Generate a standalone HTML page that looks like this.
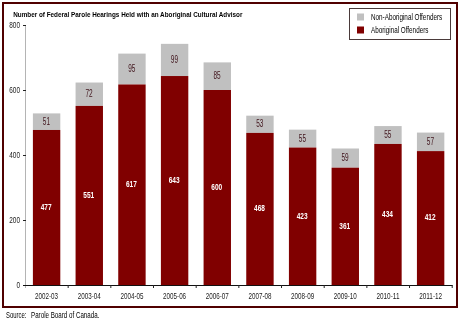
<!DOCTYPE html>
<html><head><meta charset="utf-8"><style>
html,body{margin:0;padding:0;background:#fff;width:460px;height:322px;overflow:hidden}
svg{display:block;font-family:"Liberation Sans", sans-serif;will-change:transform}
</style></head><body>
<svg width="460" height="322" viewBox="0 0 460 322">
<rect x="3" y="3" width="454" height="304" fill="none" stroke="#500000" stroke-width="2"/>
<text x="13.20" y="17.20" font-size="8.1" font-weight="bold" fill="#000" text-anchor="start" textLength="229.20" lengthAdjust="spacingAndGlyphs">Number of Federal Parole Hearings Held with an Aboriginal Cultural Advisor</text>
<rect x="32.90" y="113.40" width="27.4" height="16.57" fill="#c0c0c0"/>
<rect x="32.90" y="129.97" width="27.4" height="155.03" fill="#800000"/>
<text x="46.40" y="124.69" font-size="10.0" font-weight="normal" fill="#40141c" text-anchor="middle" textLength="7.20" lengthAdjust="spacingAndGlyphs">51</text>
<text x="46.10" y="209.79" font-size="9.9" font-weight="bold" fill="#fff" text-anchor="middle" textLength="10.90" lengthAdjust="spacingAndGlyphs">477</text>
<text x="46.60" y="299.20" font-size="9.2" font-weight="normal" fill="#222" text-anchor="middle" textLength="23.00" lengthAdjust="spacingAndGlyphs">2002-03</text>
<rect x="75.57" y="82.53" width="27.4" height="23.40" fill="#c0c0c0"/>
<rect x="75.57" y="105.92" width="27.4" height="179.08" fill="#800000"/>
<text x="89.07" y="97.22" font-size="10.0" font-weight="normal" fill="#40141c" text-anchor="middle" textLength="7.20" lengthAdjust="spacingAndGlyphs">72</text>
<text x="88.77" y="197.76" font-size="9.9" font-weight="bold" fill="#fff" text-anchor="middle" textLength="10.90" lengthAdjust="spacingAndGlyphs">551</text>
<text x="89.27" y="299.20" font-size="9.2" font-weight="normal" fill="#222" text-anchor="middle" textLength="23.00" lengthAdjust="spacingAndGlyphs">2003-04</text>
<rect x="118.24" y="53.60" width="27.4" height="30.88" fill="#c0c0c0"/>
<rect x="118.24" y="84.47" width="27.4" height="200.53" fill="#800000"/>
<text x="131.74" y="72.04" font-size="10.0" font-weight="normal" fill="#40141c" text-anchor="middle" textLength="7.20" lengthAdjust="spacingAndGlyphs">95</text>
<text x="131.44" y="187.04" font-size="9.9" font-weight="bold" fill="#fff" text-anchor="middle" textLength="10.90" lengthAdjust="spacingAndGlyphs">617</text>
<text x="131.94" y="299.20" font-size="9.2" font-weight="normal" fill="#222" text-anchor="middle" textLength="23.00" lengthAdjust="spacingAndGlyphs">2004-05</text>
<rect x="160.91" y="43.85" width="27.4" height="32.18" fill="#c0c0c0"/>
<rect x="160.91" y="76.03" width="27.4" height="208.97" fill="#800000"/>
<text x="174.41" y="62.94" font-size="10.0" font-weight="normal" fill="#40141c" text-anchor="middle" textLength="7.20" lengthAdjust="spacingAndGlyphs">99</text>
<text x="174.11" y="182.81" font-size="9.9" font-weight="bold" fill="#fff" text-anchor="middle" textLength="10.90" lengthAdjust="spacingAndGlyphs">643</text>
<text x="174.61" y="299.20" font-size="9.2" font-weight="normal" fill="#222" text-anchor="middle" textLength="23.00" lengthAdjust="spacingAndGlyphs">2005-06</text>
<rect x="203.58" y="62.38" width="27.4" height="27.62" fill="#c0c0c0"/>
<rect x="203.58" y="90.00" width="27.4" height="195.00" fill="#800000"/>
<text x="217.08" y="79.19" font-size="10.0" font-weight="normal" fill="#40141c" text-anchor="middle" textLength="7.20" lengthAdjust="spacingAndGlyphs">85</text>
<text x="216.78" y="189.80" font-size="9.9" font-weight="bold" fill="#fff" text-anchor="middle" textLength="10.90" lengthAdjust="spacingAndGlyphs">600</text>
<text x="217.28" y="299.20" font-size="9.2" font-weight="normal" fill="#222" text-anchor="middle" textLength="23.00" lengthAdjust="spacingAndGlyphs">2006-07</text>
<rect x="246.25" y="115.67" width="27.4" height="17.23" fill="#c0c0c0"/>
<rect x="246.25" y="132.90" width="27.4" height="152.10" fill="#800000"/>
<text x="259.75" y="127.29" font-size="10.0" font-weight="normal" fill="#40141c" text-anchor="middle" textLength="7.20" lengthAdjust="spacingAndGlyphs">53</text>
<text x="259.45" y="211.25" font-size="9.9" font-weight="bold" fill="#fff" text-anchor="middle" textLength="10.90" lengthAdjust="spacingAndGlyphs">468</text>
<text x="259.95" y="299.20" font-size="9.2" font-weight="normal" fill="#222" text-anchor="middle" textLength="23.00" lengthAdjust="spacingAndGlyphs">2007-08</text>
<rect x="288.92" y="129.65" width="27.4" height="17.88" fill="#c0c0c0"/>
<rect x="288.92" y="147.53" width="27.4" height="137.47" fill="#800000"/>
<text x="302.42" y="141.59" font-size="10.0" font-weight="normal" fill="#40141c" text-anchor="middle" textLength="7.20" lengthAdjust="spacingAndGlyphs">55</text>
<text x="302.12" y="218.56" font-size="9.9" font-weight="bold" fill="#fff" text-anchor="middle" textLength="10.90" lengthAdjust="spacingAndGlyphs">423</text>
<text x="302.62" y="299.20" font-size="9.2" font-weight="normal" fill="#222" text-anchor="middle" textLength="23.00" lengthAdjust="spacingAndGlyphs">2008-09</text>
<rect x="331.59" y="148.50" width="27.4" height="19.18" fill="#c0c0c0"/>
<rect x="331.59" y="167.68" width="27.4" height="117.32" fill="#800000"/>
<text x="345.09" y="161.09" font-size="10.0" font-weight="normal" fill="#40141c" text-anchor="middle" textLength="7.20" lengthAdjust="spacingAndGlyphs">59</text>
<text x="344.79" y="228.64" font-size="9.9" font-weight="bold" fill="#fff" text-anchor="middle" textLength="10.90" lengthAdjust="spacingAndGlyphs">361</text>
<text x="345.29" y="299.20" font-size="9.2" font-weight="normal" fill="#222" text-anchor="middle" textLength="23.00" lengthAdjust="spacingAndGlyphs">2009-10</text>
<rect x="374.26" y="126.07" width="27.4" height="17.88" fill="#c0c0c0"/>
<rect x="374.26" y="143.95" width="27.4" height="141.05" fill="#800000"/>
<text x="387.76" y="138.01" font-size="10.0" font-weight="normal" fill="#40141c" text-anchor="middle" textLength="7.20" lengthAdjust="spacingAndGlyphs">55</text>
<text x="387.46" y="216.78" font-size="9.9" font-weight="bold" fill="#fff" text-anchor="middle" textLength="10.90" lengthAdjust="spacingAndGlyphs">434</text>
<text x="387.96" y="299.20" font-size="9.2" font-weight="normal" fill="#222" text-anchor="middle" textLength="23.00" lengthAdjust="spacingAndGlyphs">2010-11</text>
<rect x="416.93" y="132.57" width="27.4" height="18.53" fill="#c0c0c0"/>
<rect x="416.93" y="151.10" width="27.4" height="133.90" fill="#800000"/>
<text x="430.43" y="144.84" font-size="10.0" font-weight="normal" fill="#40141c" text-anchor="middle" textLength="7.20" lengthAdjust="spacingAndGlyphs">57</text>
<text x="430.13" y="220.35" font-size="9.9" font-weight="bold" fill="#fff" text-anchor="middle" textLength="10.90" lengthAdjust="spacingAndGlyphs">412</text>
<text x="430.63" y="299.20" font-size="9.2" font-weight="normal" fill="#222" text-anchor="middle" textLength="23.00" lengthAdjust="spacingAndGlyphs">2011-12</text>
<line x1="25.5" y1="25" x2="25.5" y2="288" stroke="#b4b4b4" stroke-width="1"/>
<line x1="23" y1="285.50" x2="26" y2="285.50" stroke="#222" stroke-width="1"/>
<text x="20.00" y="288.20" font-size="9.4" font-weight="normal" fill="#222" text-anchor="end" textLength="3.60" lengthAdjust="spacingAndGlyphs">0</text>
<line x1="23" y1="220.50" x2="26" y2="220.50" stroke="#222" stroke-width="1"/>
<text x="20.00" y="223.20" font-size="9.4" font-weight="normal" fill="#222" text-anchor="end" textLength="10.80" lengthAdjust="spacingAndGlyphs">200</text>
<line x1="23" y1="155.50" x2="26" y2="155.50" stroke="#222" stroke-width="1"/>
<text x="20.00" y="158.20" font-size="9.4" font-weight="normal" fill="#222" text-anchor="end" textLength="10.80" lengthAdjust="spacingAndGlyphs">400</text>
<line x1="23" y1="90.50" x2="26" y2="90.50" stroke="#222" stroke-width="1"/>
<text x="20.00" y="93.20" font-size="9.4" font-weight="normal" fill="#222" text-anchor="end" textLength="10.80" lengthAdjust="spacingAndGlyphs">600</text>
<line x1="23" y1="25.50" x2="26" y2="25.50" stroke="#222" stroke-width="1"/>
<text x="20.00" y="28.20" font-size="9.4" font-weight="normal" fill="#222" text-anchor="end" textLength="10.80" lengthAdjust="spacingAndGlyphs">800</text>
<line x1="23" y1="285.5" x2="452.5" y2="285.5" stroke="#111" stroke-width="1"/>
<line x1="68.17" y1="285" x2="68.17" y2="288" stroke="#222" stroke-width="1"/>
<line x1="110.84" y1="285" x2="110.84" y2="288" stroke="#222" stroke-width="1"/>
<line x1="153.51" y1="285" x2="153.51" y2="288" stroke="#222" stroke-width="1"/>
<line x1="196.18" y1="285" x2="196.18" y2="288" stroke="#222" stroke-width="1"/>
<line x1="238.85" y1="285" x2="238.85" y2="288" stroke="#222" stroke-width="1"/>
<line x1="281.52" y1="285" x2="281.52" y2="288" stroke="#222" stroke-width="1"/>
<line x1="324.19" y1="285" x2="324.19" y2="288" stroke="#222" stroke-width="1"/>
<line x1="366.86" y1="285" x2="366.86" y2="288" stroke="#222" stroke-width="1"/>
<line x1="409.53" y1="285" x2="409.53" y2="288" stroke="#222" stroke-width="1"/>
<line x1="452.20" y1="285" x2="452.20" y2="288" stroke="#222" stroke-width="1"/>
<rect x="349.5" y="8.5" width="101" height="31" fill="#fff" stroke="#4a3a3a" stroke-width="1"/>
<rect x="357" y="13.5" width="7" height="7" fill="#c0c0c0"/>
<rect x="357" y="26.5" width="7" height="7" fill="#800000"/>
<text x="371.00" y="19.70" font-size="8.6" font-weight="normal" fill="#000" text-anchor="start" textLength="71.20" lengthAdjust="spacingAndGlyphs">Non-Aboriginal Offenders</text>
<text x="371.00" y="32.60" font-size="8.6" font-weight="normal" fill="#000" text-anchor="start" textLength="57.40" lengthAdjust="spacingAndGlyphs">Aboriginal Offenders</text>
<text x="6.00" y="318.30" font-size="8.2" font-weight="normal" fill="#000" text-anchor="start" textLength="20.40" lengthAdjust="spacingAndGlyphs">Source:</text>
<text x="31.00" y="318.30" font-size="8.2" font-weight="normal" fill="#000" text-anchor="start" textLength="68.40" lengthAdjust="spacingAndGlyphs">Parole Board of Canada.</text>
</svg>
</body></html>
